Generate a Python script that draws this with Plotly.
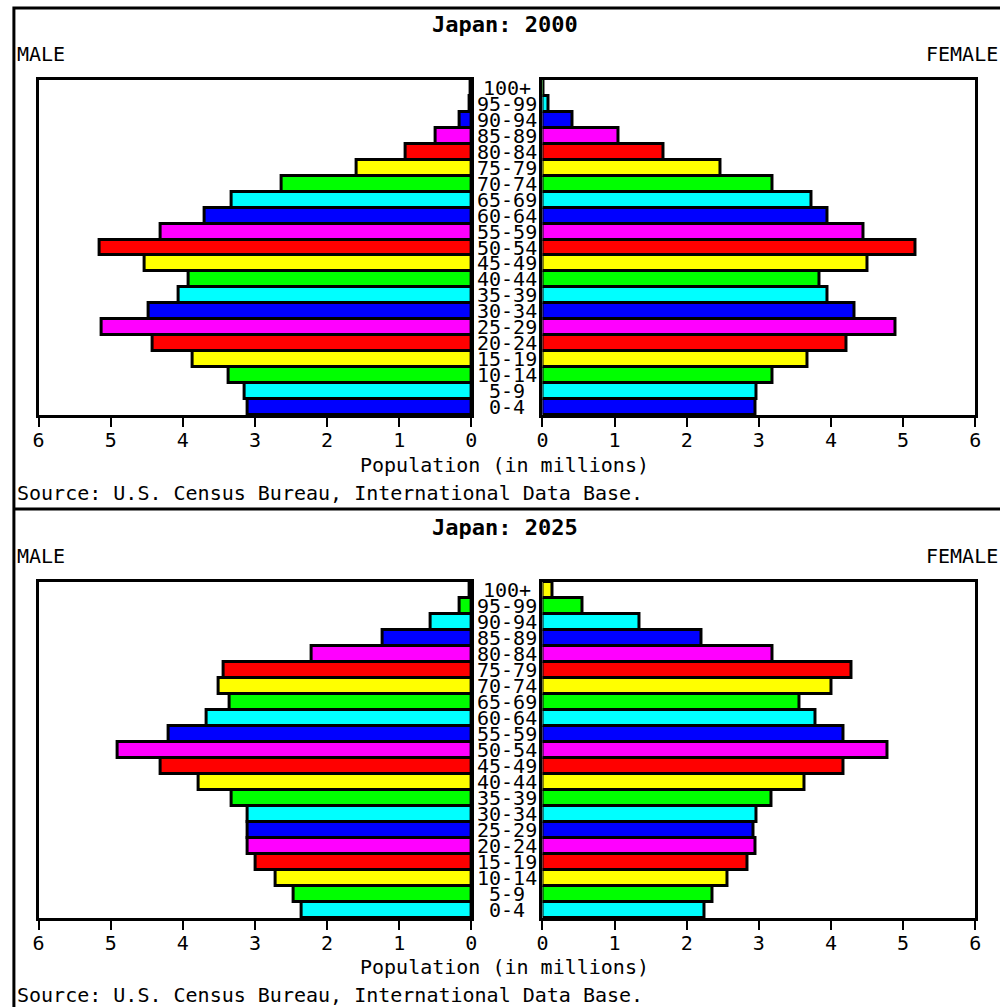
import plotly.graph_objects as go

# ---------------- data ----------------
ages = ["0-4", "5-9", "10-14", "15-19", "20-24", "25-29", "30-34", "35-39",
        "40-44", "45-49", "50-54", "55-59", "60-64", "65-69", "70-74",
        "75-79", "80-84", "85-89", "90-94", "95-99", "100+"]

male_2000 = [3.10, 3.15, 3.37, 3.87, 4.42, 5.13, 4.47, 4.06, 3.92, 4.53, 5.16,
             4.31, 3.70, 3.32, 2.63, 1.59, 0.91, 0.49, 0.16, 0.03, 0.004]
female_2000 = [2.95, 2.97, 3.19, 3.67, 4.22, 4.89, 4.33, 3.95, 3.84, 4.50, 5.17,
               4.45, 3.95, 3.73, 3.19, 2.47, 1.68, 1.05, 0.42, 0.09, 0.01]

male_2025 = [2.36, 2.46, 2.71, 2.99, 3.10, 3.10, 3.10, 3.32, 3.78, 4.31, 4.91,
             4.20, 3.67, 3.35, 3.51, 3.43, 2.22, 1.23, 0.57, 0.16, 0.02]
female_2025 = [2.24, 2.36, 2.57, 2.84, 2.96, 2.92, 2.97, 3.18, 3.63, 4.17, 4.78,
               4.18, 3.78, 3.57, 4.00, 4.28, 3.19, 2.20, 1.35, 0.56, 0.14]

x_ticks = [0, 1, 2, 3, 4, 5, 6]
titles = ["Japan: 2000", "Japan: 2025"]
source_text = "Source: U.S. Census Bureau, International Data Base."
axis_title = "Population (in millions)"

# ---------------- style ----------------
palette = ["#0000FF", "#00FFFF", "#00FF00", "#FFFF00", "#FF0000", "#FF00FF"]
W, H = 1000, 1007
MONO = "DejaVu Sans Mono"


def px(x):
    return x / W


def py(y):
    return 1 - y / H


fig = go.Figure()

panels = [
    dict(male=male_2000, female=female_2000, offset=0, top=80, bottom=415, dy=0),
    dict(male=male_2025, female=female_2025, offset=1, top=582, bottom=918, dy=502),
]

annotations = []
layout_axes = {}
for i, p in enumerate(panels):
    colors = [palette[(k + p["offset"]) % len(palette)] for k in range(len(ages))]
    xm = "x" if i == 0 else f"x{2 * i + 1}"
    ym = "y" if i == 0 else f"y{2 * i + 1}"
    xf = f"x{2 * i + 2}"
    yf = f"y{2 * i + 2}"
    for vals, xa, ya in [(p["male"], xm, ym), (p["female"], xf, yf)]:
        fig.add_trace(go.Bar(
            x=vals, y=ages, orientation="h", xaxis=xa, yaxis=ya,
            marker=dict(color=colors, line=dict(color="black", width=3)),
            showlegend=False, hoverinfo="skip",
        ))
    ydom = [py(p["bottom"]), py(p["top"])]
    common_x = dict(
        tickvals=x_ticks, ticktext=[str(t) for t in x_ticks],
        ticks="outside", ticklen=9, tickwidth=2, tickcolor="black",
        showline=True, linewidth=3, linecolor="black", mirror=True,
        showgrid=False, zeroline=False, fixedrange=True,
        tickfont=dict(family=MONO, size=20, color="black"),
        ticklabelstandoff=-4,
    )
    common_y = dict(
        domain=ydom, range=[-0.5, len(ages) - 0.5], type="category",
        showticklabels=False, ticks="",
        showline=True, linewidth=3, linecolor="black", mirror=True,
        showgrid=False, zeroline=False, fixedrange=True,
    )
    nm = "" if i == 0 else str(2 * i + 1)
    nf = str(2 * i + 2)
    layout_axes["xaxis" + nm] = dict(common_x, domain=[px(33), px(471)], range=[6, 0], anchor=ym)
    layout_axes["yaxis" + nm] = dict(common_y, anchor=xm)
    layout_axes["xaxis" + nf] = dict(common_x, domain=[px(543), px(981)], range=[0, 6], anchor=yf)
    layout_axes["yaxis" + nf] = dict(common_y, anchor=xf)

    # age labels in the middle column
    for a in ages:
        annotations.append(dict(
            x=px(507), xref="paper", y=a, yref=ym, text=a, showarrow=False,
            xanchor="center", yanchor="middle",
            font=dict(family=MONO, size=20, color="black"),
        ))
    dy = p["dy"]
    annotations += [
        dict(x=px(505), y=py(25 + dy), xref="paper", yref="paper", text="<b>" + titles[i] + "</b>",
             showarrow=False, xanchor="center", yanchor="middle",
             font=dict(family=MONO, size=22, color="black")),
        dict(x=px(9), y=py(54 + dy), xref="paper", yref="paper", text="MALE",
             showarrow=False, xanchor="left", yanchor="middle",
             font=dict(family=MONO, size=20, color="black")),
        dict(x=px(929), y=py(54 + dy), xref="paper", yref="paper", text="FEMALE",
             showarrow=False, xanchor="left", yanchor="middle",
             font=dict(family=MONO, size=20, color="black")),
        dict(x=px(505), y=py(465 + dy), xref="paper", yref="paper", text=axis_title,
             showarrow=False, xanchor="center", yanchor="middle",
             font=dict(family=MONO, size=20, color="black")),
        dict(x=px(9), y=py(493 + dy), xref="paper", yref="paper", text=source_text,
             showarrow=False, xanchor="left", yanchor="middle",
             font=dict(family=MONO, size=20, color="black")),
    ]

shapes = [
    dict(type="rect", xref="paper", yref="paper", x0=px(8), x1=px(1010), y0=py(1015), y1=py(8),
         line=dict(color="black", width=3), fillcolor="rgba(0,0,0,0)", layer="above"),
    dict(type="line", xref="paper", yref="paper", x0=px(8), x1=px(1010), y0=py(509), y1=py(509),
         line=dict(color="black", width=3)),
]

fig.update_layout(
    width=W, height=H, margin=dict(l=0, r=0, t=0, b=0),
    paper_bgcolor="white", plot_bgcolor="white",
    bargap=0, barmode="overlay",
    annotations=annotations, shapes=shapes,
    **layout_axes,
)

fig.write_html(
    "out.html",
    config={"displayModeBar": False},
    post_script="document.body.style.margin='0';document.body.style.overflow='hidden';",
)
